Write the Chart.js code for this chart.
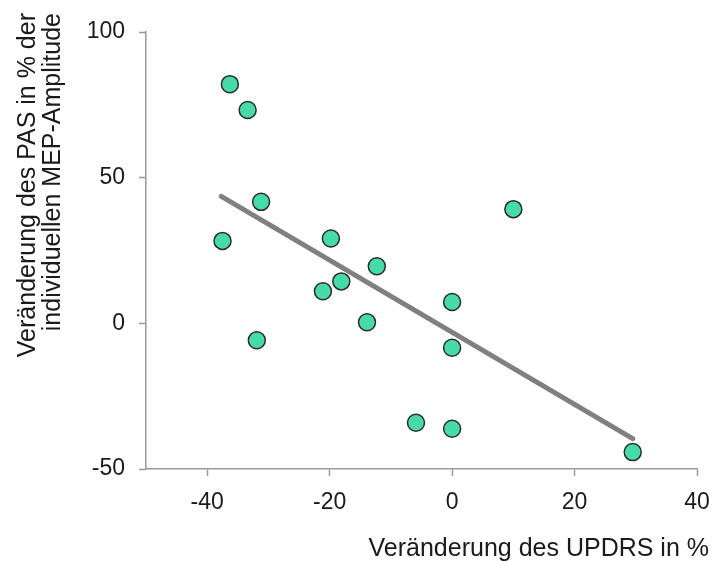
<!DOCTYPE html>
<html>
<head>
<meta charset="utf-8">
<script src="https://cdn.jsdelivr.net/npm/chart.js@4/dist/chart.umd.min.js"></script>
<style>
  html, body { margin: 0; padding: 0; background: #ffffff; }
  #wrap { width: 713px; height: 562px; position: relative; }
</style>
</head>
<body>
<div id="wrap"><canvas id="chart" width="713" height="562"></canvas></div>
<script>
// Change in UPDRS (%) per patient
const updrsChange = [-36.3, -33.4, -31.2, -37.5, -31.9, -19.8, -21.1, -18.1, -12.3, -13.9, -5.9, 0, 0, 0, 10.0, 29.5];
// Change in PAS effect (% of individual MEP amplitude) per patient
const pasChange = [82.1, 73.2, 41.7, 28.3, -5.8, 29.1, 11.0, 14.4, 19.6, 0.4, -34.1, 7.3, -8.4, -36.2, 39.2, -44.2];

// Regression line end points
const fitX = [-37.7, 29.5];
const fitY = [43.6, -39.6];

// Axis tick values
const xTicks = [-40, -20, 0, 20, 40];
const yTicks = [-50, 0, 50, 100];

const xTitle = 'Veränderung des UPDRS in %';
const yTitle = ['Veränderung des PAS in % der', 'individuellen MEP-Amplitude'];

const FONT = "'Liberation Sans', Arial, sans-serif";
const TEXT = '#1a1a1a';
const AXIS = '#9a9a9a';

const scatterPoints = updrsChange.map((x, i) => ({ x: x, y: pasChange[i] }));
const fitPoints = fitX.map((x, i) => ({ x: x, y: fitY[i] }));

// Draws the two axis titles at fixed positions around the plot
const axisTitles = {
  id: 'axisTitles',
  afterDraw(chart) {
    const ctx = chart.ctx;
    ctx.save();
    ctx.fillStyle = TEXT;
    ctx.font = '25px ' + FONT;
    ctx.textBaseline = 'middle';
    ctx.textAlign = 'right';
    ctx.fillText(xTitle, 709, 549);
    const lineX = [28, 53];
    yTitle.forEach((line, i) => {
      ctx.save();
      ctx.translate(lineX[i], 13);
      ctx.rotate(-Math.PI / 2);
      ctx.textAlign = 'right';
      ctx.fillText(line, 0, 0);
      ctx.restore();
    });
    ctx.restore();
  }
};

new Chart(document.getElementById('chart'), {
  type: 'scatter',
  data: {
    datasets: [
      {
        label: 'Patienten',
        data: scatterPoints,
        backgroundColor: '#47dca7',
        borderColor: '#2b2b2b',
        borderWidth: 1.5,
        pointRadius: 8.5,
        pointHoverRadius: 8.5,
        order: 1
      },
      {
        type: 'line',
        label: 'Regression',
        data: fitPoints,
        showLine: true,
        borderColor: '#808080',
        borderWidth: 5,
        borderCapStyle: 'round',
        pointRadius: 0,
        fill: false,
        order: 2
      }
    ]
  },
  options: {
    responsive: false,
    animation: false,
    devicePixelRatio: 1,
    layout: { padding: { top: 32, right: 16, left: 0, bottom: 0 } },
    plugins: {
      legend: { display: false },
      tooltip: { enabled: false }
    },
    scales: {
      x: {
        type: 'linear',
        min: -50,
        max: 40,
        afterBuildTicks(scale) { scale.ticks = xTicks.map(v => ({ value: v })); },
        afterFit(scale) {
          scale.height = 93;
          scale.paddingLeft = 0;
          scale.paddingRight = 0;
        },
        border: { display: true, color: AXIS, width: 1.5 },
        grid: { display: true, drawOnChartArea: false, drawTicks: true, tickLength: 7, tickColor: AXIS, tickWidth: 1.5 },
        ticks: { color: TEXT, font: { size: 23, family: FONT }, padding: 13, maxRotation: 0 }
      },
      y: {
        type: 'linear',
        min: -50,
        max: 100,
        afterBuildTicks(scale) { scale.ticks = yTicks.map(v => ({ value: v })); },
        afterFit(scale) {
          scale.width = 146;
          scale.paddingTop = 0;
          scale.paddingBottom = 0;
        },
        border: { display: true, color: AXIS, width: 1.5 },
        grid: { display: true, drawOnChartArea: false, drawTicks: true, tickLength: 7, tickColor: AXIS, tickWidth: 1.5 },
        ticks: { color: TEXT, font: { size: 23, family: FONT }, padding: 14 }
      }
    }
  },
  plugins: [axisTitles]
});
</script>
</body>
</html>
